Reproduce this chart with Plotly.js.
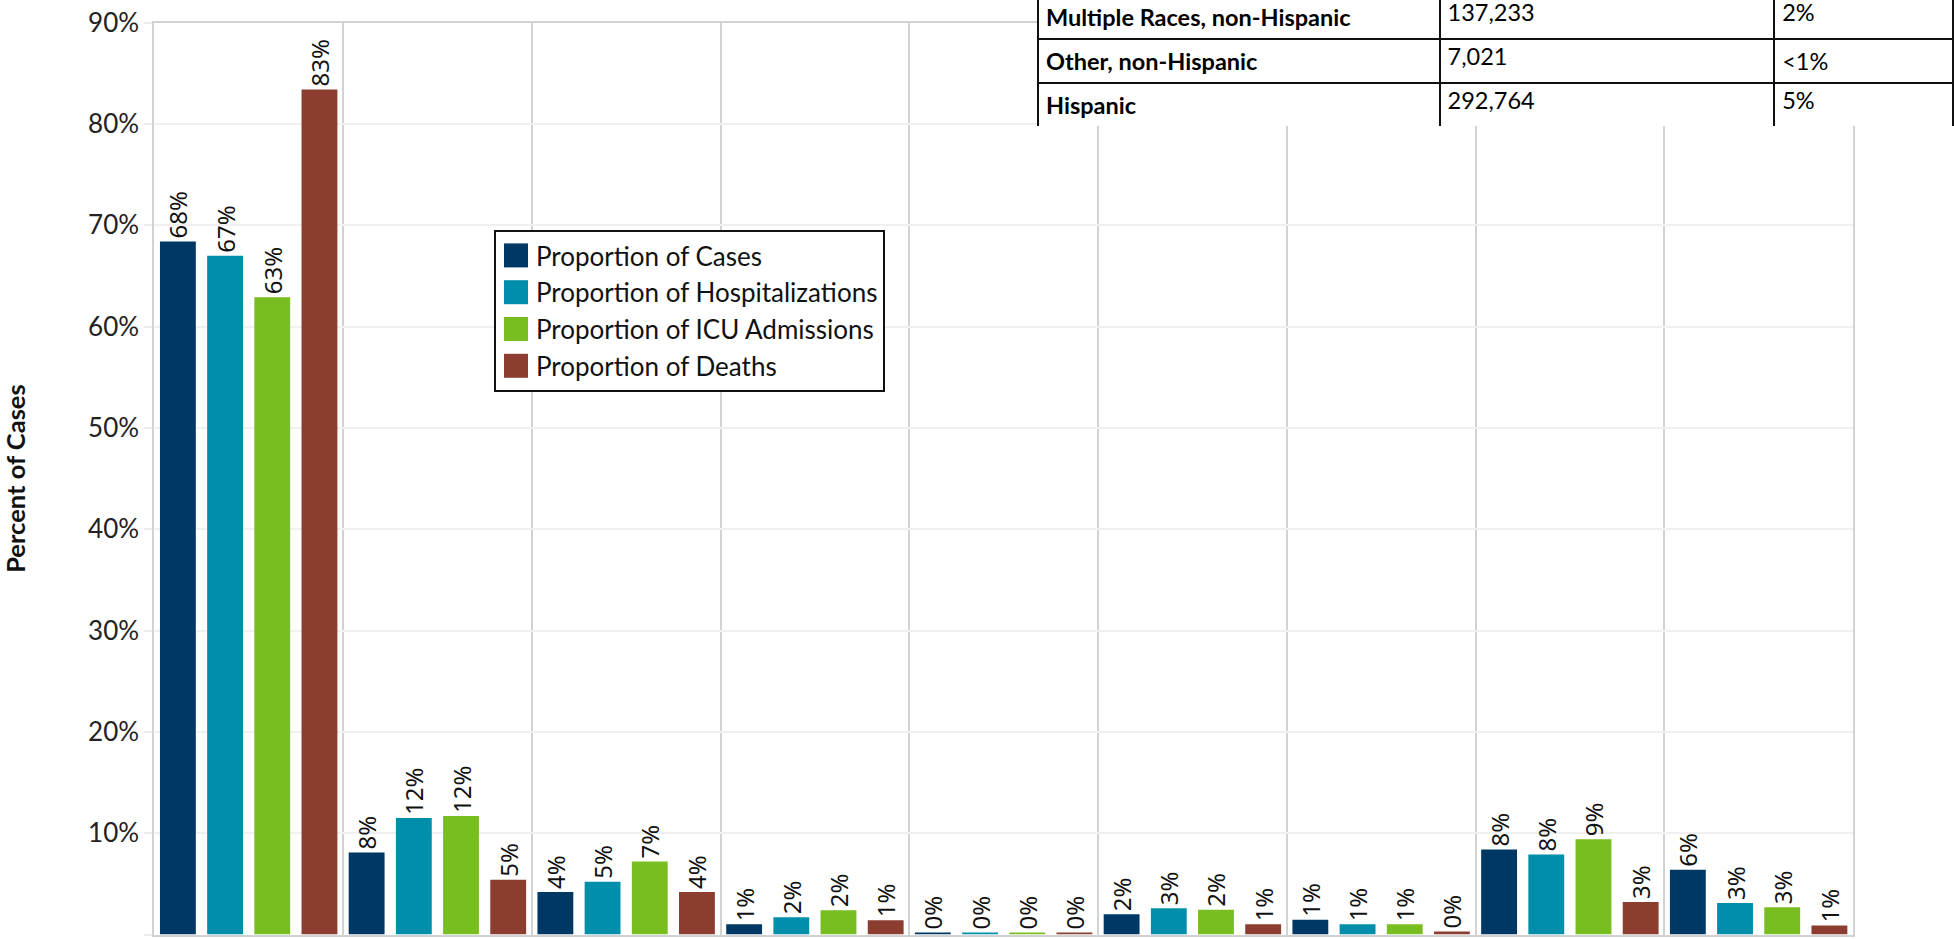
<!DOCTYPE html>
<html>
<head>
<meta charset="utf-8">
<script src="https://cdn.plot.ly/plotly-3.0.1.min.js"></script>
<style>
  html, body { margin: 0; padding: 0; background: #ffffff; overflow: hidden; }
  /* the figure is 5px taller than the window and starts 5px above it,
     so the table's first row is cropped at the top like in the reference */
  #chart { width: 1954px; height: 944px; margin-top: -5px; }
</style>
</head>
<body>
<div id="chart"></div>
<script>
// ---------------- data ----------------
const categories = [
  'White, non-Hispanic',
  'Black, non-Hispanic',
  'Asian, non-Hispanic',
  'American Indian/Alaska Native, non-Hispanic',
  'Native Hawaiian/Pacific Islander, non-Hispanic',
  'Multiple Races, non-Hispanic',
  'Other, non-Hispanic',
  'Hispanic',
  'Unknown'
];
const seriesNames = [
  'Proportion of Cases',
  'Proportion of Hospitalizations',
  'Proportion of ICU Admissions',
  'Proportion of Deaths'
];
const casesPct  = [68.4, 8.1, 4.2, 1.0, 0.2, 2.0, 1.45, 8.4, 6.4];
const hospPct   = [67.0, 11.5, 5.2, 1.7, 0.2, 2.6, 1.0, 7.9, 3.1];
const icuPct    = [62.9, 11.7, 7.2, 2.4, 0.2, 2.45, 1.0, 9.4, 2.7];
const deathsPct = [83.4, 5.4, 4.2, 1.4, 0.2, 1.0, 0.3, 3.2, 0.9];
const yTickVals = [0, 10, 20, 30, 40, 50, 60, 70, 80, 90];
const yTickText = ['0%', '10%', '20%', '30%', '40%', '50%', '60%', '70%', '80%', '90%'];

const tableLabels   = ['Multiple Races, non-Hispanic', 'Other, non-Hispanic', 'Hispanic'];
const tableCounts   = ['137,233', '7,021', '292,764'];
const tablePercents = ['2%', '<1%', '5%'];

// ---------------- styling ----------------
const seriesValues = [casesPct, hospPct, icuPct, deathsPct];
const seriesColors = ['#003865', '#008FAB', '#78BE20', '#8B3E2F'];
const W = 1954, H = 944, OFF = 5;   // OFF: px of the figure hidden above the window

const traces = seriesValues.map((vals, i) => ({
  type: 'bar',
  name: seriesNames[i],
  x: categories,
  y: vals,
  marker: { color: seriesColors[i], line: { width: 0 } },
  texttemplate: '%{y:.0f}%',
  textposition: 'outside',
  textangle: -90,
  constraintext: 'none',
  cliponaxis: false,
  textfont: { family: 'Noto Sans, sans-serif', size: 24, color: '#111111' },
  hovertemplate: '%{x}<br>' + seriesNames[i] + ': %{y}%<extra></extra>'
}));

// table: first visible row acts as the (cropped) header row
const bold = s => '<b>' + s + '</b>';
const tableCellStyle = {
  align: 'left',
  fill: { color: '#ffffff' },
  line: { color: '#111111', width: 2 },
  font: { family: 'Lato, sans-serif', size: 23.5, color: '#000000' }
};
traces.push({
  type: 'table',
  domain: { x: [1038 / W, 1], y: [1 - (127 + OFF) / H, 1] },
  columnwidth: [402, 335, 179],
  header: Object.assign({
    values: [bold(tableLabels[0]), tableCounts[0], tablePercents[0]],
    height: 44
  }, tableCellStyle),
  cells: Object.assign({
    values: [tableLabels.slice(1).map(bold), tableCounts.slice(1), tablePercents.slice(1)],
    height: 44
  }, tableCellStyle)
});

const layout = {
  width: W, height: H,
  margin: { l: 0, r: 0, t: 0, b: 0 },
  paper_bgcolor: '#ffffff',
  plot_bgcolor: '#ffffff',
  barmode: 'group',
  bargap: 0,
  bargroupgap: 0.24,
  showlegend: true,
  legend: {
    x: 494 / W, xanchor: 'left',
    y: 1 - (230 + OFF) / H, yanchor: 'top',
    bgcolor: '#ffffff',
    bordercolor: '#111111',
    borderwidth: 2,
    traceorder: 'normal',
    font: { family: 'Lato, sans-serif', size: 26, color: '#111111' }
  },
  xaxis: {
    domain: [154.3 / W, 1853 / W],
    type: 'category',
    range: [-0.5, 8.5],
    tickson: 'boundaries',
    showticklabels: false,
    ticks: '',
    showgrid: true,
    gridcolor: '#d2d2d2',
    gridwidth: 2,
    showline: true,
    linecolor: '#d2d2d2',
    linewidth: 2,
    mirror: true,
    zeroline: false,
    fixedrange: true
  },
  yaxis: {
    domain: [(H - (934.5 + OFF)) / H, (H - (22.7 + OFF)) / H],
    range: [0, 90],
    tickmode: 'array',
    tickvals: yTickVals,
    ticktext: yTickText,
    ticks: 'outside',
    ticklen: 8,
    tickwidth: 2,
    tickcolor: '#ececec',
    tickfont: { family: 'Lato, sans-serif', size: 26, color: '#222222' },
    showgrid: true,
    gridcolor: '#f0f0f0',
    gridwidth: 2,
    showline: true,
    linecolor: '#d2d2d2',
    linewidth: 2,
    mirror: true,
    zeroline: false,
    fixedrange: true,
    title: {
      text: 'Percent of Cases',
      standoff: 64,
      font: { family: 'Lato, sans-serif', size: 25.5, color: '#111111', weight: 'bold' }
    }
  }
};

Plotly.newPlot('chart', traces, layout, { displayModeBar: false, staticPlot: true }).then(gd => {
  // enlarge the legend swatches to the reference's 24px squares (keep Plotly's own centring)
  document.querySelectorAll('.legend .legendpoints path').forEach(p => {
    const t = p.getAttribute('transform') || '';
    p.setAttribute('transform', t + ' scale(2)');
  });
});
</script>
</body>
</html>
